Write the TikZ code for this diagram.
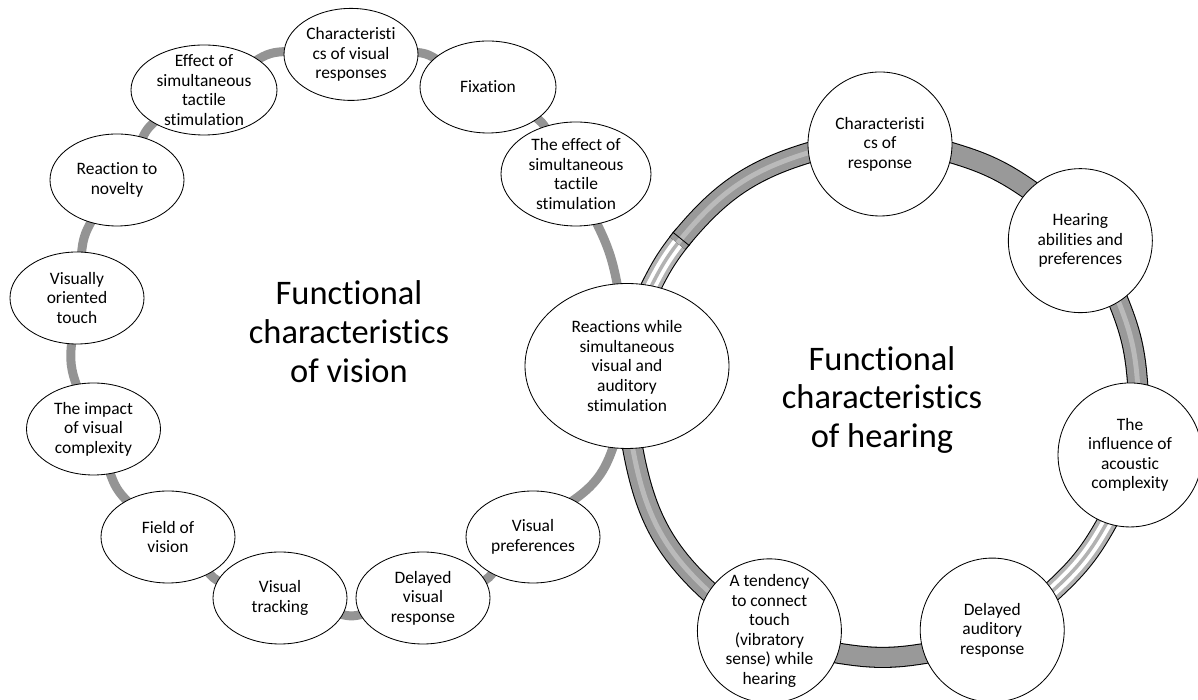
\documentclass[tikz,border=0pt]{standalone}
\usepackage{fontspec}
\setmainfont{Carlito}[Ligatures=NoCommon]
\usetikzlibrary{calc, shapes, backgrounds}
\newcommand{\cellfont}{\fontsize{12.4}{13.9}\selectfont}
\newcommand{\captfont}{\fontsize{24.5}{27.7}\selectfont}

\begin{document}
\begin{tikzpicture}[
	visnode/.style={ellipse, draw, line width=0.6pt, fill=white, inner sep=-6pt, minimum width=3.35cm, minimum height=2.3cm, align=center, font=\cellfont},
	hearnode/.style={circle, draw, line width=0.6pt, fill=white, inner sep=-6pt, minimum size=3.6cm, align=center, font=\cellfont},
	ringtitle/.style={align=center, font=\captfont},
	link/.style={draw=black!42, line width=6.4pt, shorten <=-3pt, shorten >=-3pt},
	tubedark/.style={draw=black!40, line width=13.5pt, preaction={draw=black, line width=15pt}, shorten <=-4pt, shorten >=-4pt},
	tubemid/.style={tubedark, postaction={draw=black!27, line width=3.5pt}},
	tubelight/.style={tubedark, draw=black!30, postaction={draw=white, line width=8pt}, postaction={draw=black!30, line width=2.5pt}}]
	\useasboundingbox (0,0) rectangle (29.95,17.5);
	\coordinate (rc) at (22,7.5);
	% vision ring
	\node[visnode] (cvis) at (8.775,16.14) {Characteristi\\cs of visual\\responses};
	\node[visnode, minimum width=3.4cm] (fix) at (12.2,15.325) {Fixation};
	\node[visnode, minimum width=3.75cm, minimum height=2.6cm] (effr) at (14.4,13.15) {The effect of\\simultaneous\\tactile\\stimulation};
	\node[visnode, minimum width=5.1cm, minimum height=4.125cm] (react) at (15.675,8.35) {Reactions while\\simultaneous\\visual and\\auditory\\stimulation};
	\node[visnode] (vpref) at (13.325,4.075) {Visual\\preferences};
	\node[visnode] (dvis) at (10.575,2.55) {Delayed\\visual\\response};
	\node[visnode] (track) at (7.0,2.55) {Visual\\tracking};
	\node[visnode] (field) at (4.2,4.075) {Field of\\vision};
	\node[visnode] (impact) at (2.3375,6.775) {The impact\\of visual\\complexity};
	\node[visnode] (touch) at (1.925,10.05) {Visually\\oriented\\touch};
	\node[visnode] (novel) at (2.925,13.0) {Reaction to\\novelty};
	\node[visnode, minimum width=3.65cm, minimum height=2.25cm] (effl) at (5.1,15.25) {Effect of\\simultaneous\\tactile\\stimulation};
	% hearing ring
	\node[hearnode] (cresp) at ($(rc)+(90:6.4)$) {Characteristi\\cs of\\response};
	\node[hearnode] (hear) at ($(rc)+(38.5:6.4)$) {Hearing\\abilities and\\preferences};
	\node[hearnode] (infl) at ($(rc)+(-12.4:6.4)$) {The\\influence of\\acoustic\\complexity};
	\node[hearnode] (daud) at ($(rc)+(-64:6.4)$) {Delayed\\auditory\\response};
	\node[hearnode] (tend) at ($(rc)+(-115.6:6.4)$) {A tendency\\to connect\\touch\\(vibratory\\sense) while\\hearing};
	\coordinate (joint) at ($(rc)+(141:6.4)$);
	\node[ringtitle] (tvis) at (8.725,9.2) {Functional\\characteristics\\of vision};
	\node[ringtitle] (thear) at (22.05,7.5) {Functional\\characteristics\\of hearing};
	\begin{scope}[on background layer]
		\draw[link] (cvis) to[bend left=15] (fix);
		\draw[link] (fix) to[bend left=12] (effr);
		\draw[link] (effr) to[bend left=8] (react);
		\draw[link] (react) to[bend left=19] (vpref);
		\draw[link] (vpref) to[bend left=13] (dvis);
		\draw[link] (dvis) to[bend left=15] (track);
		\draw[link] (track) to[bend left=13] (field);
		\draw[link] (field) to[bend left=14] (impact);
		\draw[link] (impact) to[bend left=14] (touch);
		\draw[link] (touch) to[bend left=13] (novel);
		\draw[link] (novel) to[bend left=13] (effl);
		\draw[link] (effl) to[bend left=16] (cvis);
		\draw[tubedark] (cresp.-7.2) to[out=-16.2, in=144.7] (hear.135.7);
		\draw[tubemid] (hear.-58.7) to[out=-67.7, in=93.8] (infl.84.8);
		\draw[tubelight] (infl.-109.6) to[out=-118.6, in=42.2] (daud.33.2);
		\draw[tubedark] (daud.-161.2) to[out=-170.2, in=-9.4] (tend.-18.4);
		\draw[tubemid] (tend.147.2) to[out=138.2, in=280] (react.274);
		\draw[tubelight] (react.73.5) to[out=63.6, in=231] (joint);
		\draw[tubemid] (joint) to[out=51, in=196.2] (cresp.187.2);
		\draw[line width=0.6pt] ($(joint)!0.27cm!(rc)$) -- ($(joint)!-0.27cm!(rc)$);
	\end{scope}
\end{tikzpicture}
\end{document}
